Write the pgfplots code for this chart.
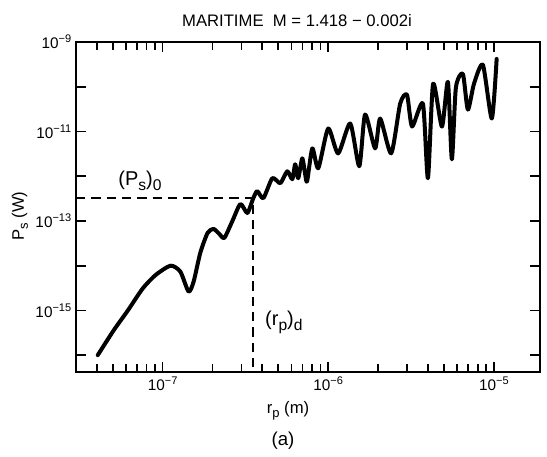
\documentclass[border=0pt]{standalone}
\usepackage{fontspec}
\setmainfont{Liberation Sans}
\usepackage{graphicx}
\usepackage{pgfplots}
\pgfplotsset{compat=1.18}
\newcommand\sub[1]{\raisebox{-0.45ex}{\scalebox{0.78}{#1}}}
\newcommand\sups[1]{\raisebox{0.75ex}{\scalebox{0.72}{#1}}}
\begin{document}
\begin{tikzpicture}
\useasboundingbox (0pt,0pt) rectangle (410.25pt,342.75pt);
\begin{axis}[
 at={(57pt,63.75pt)}, anchor=south west,
 width=348pt, height=247.5pt, scale only axis,
 xmode=log, ymode=log,
 xmin=3e-8, xmax=1.9e-5, ymin=4.2e-17, ymax=1e-9,
 xtick={1e-7,1e-6,1e-5},
 xticklabels={10\sups{−7},10\sups{−6},10\sups{−5}},
 minor xtick={4e-8,5e-8,6e-8,7e-8,8e-8,9e-8,2e-7,3e-7,4e-7,5e-7,6e-7,7e-7,8e-7,9e-7,2e-6,3e-6,4e-6,5e-6,6e-6,7e-6,8e-6,9e-6},
 ytick={1e-16,1e-15,1e-14,1e-13,1e-12,1e-11,1e-10,1e-9},
 yticklabels={,10\sups{−15},,10\sups{−13},,10\sups{−11},,10\sups{−9}},
 yminorticks=false,
 tick align=inside,
 major tick length=7.5pt, minor tick length=6pt,
 axis line style={line width=1.6pt},
 every tick/.style={black, line width=1.3pt},
 tick label style={font=\fontsize{11.5}{13}\selectfont},
 clip=false,
]
\addplot[black, line width=3pt, line join=round, line cap=round, smooth, tension=0.4] coordinates {
(4.06e-8,1.0e-16) (5.07e-8,3.60e-16) (6.15e-8,9.8e-16) (7.59e-8,3.1e-15)
(9.08e-8,6.2e-15) (1.117e-7,1.0e-14) (1.28e-7,7.36e-15) (1.435e-7,2.64e-15)
(1.54e-7,4.41e-15) (1.69e-7,1.95e-14) (1.87e-7,5.41e-14) (2.03e-7,6.64e-14)
(2.20e-7,5.14e-14) (2.36e-7,4.19e-14) (2.64e-7,1.0e-13) (2.95e-7,2.39e-13)
(3.25e-7,1.51e-13) (3.53e-7,3.24e-13) (3.73e-7,4.65e-13) (4.06e-7,3.24e-13)
(4.60e-7,9.04e-13) (5.14e-7,6.98e-13) (5.66e-7,1.29e-12) (6.07e-7,8.57e-13)
(6.32e-7,1.85e-12) (6.59e-7,9.04e-13) (6.97e-7,2.51e-12) (7.26e-7,1.107e-12)
(7.46e-7,7.74e-13) (8.02e-7,4.19e-12) (8.71e-7,1.51e-12) (1.0e-6,1.167e-11)
(1.148e-6,3.24e-12) (1.358e-6,1.51e-11) (1.54e-6,1.67e-12) (1.67e-6,2.39e-11)
(1.92e-6,4.19e-12) (2.06e-6,1.95e-11) (2.40e-6,3.24e-12) (2.72e-6,4.19e-11)
(2.99e-6,6.64e-11) (3.21e-6,1.29e-11) (3.73e-6,4.19e-11) (4.00e-6,9.04e-13)
(4.30e-6,1.167e-10) (4.86e-6,1.29e-11) (5.28e-6,1.29e-10) (5.58e-6,2.39e-12)
(5.90e-6,9.51e-11) (6.50e-6,1.95e-10) (6.97e-6,3.08e-11) (7.59e-6,1.167e-10)
(8.59e-6,3.08e-10) (9.72e-6,1.95e-11) (1.04e-5,4.19e-10)
};
\addplot[black, line width=1.5pt, dash pattern=on 7pt off 4.5pt] coordinates {
(3e-8,3.24e-13) (3.53e-7,3.24e-13) (3.53e-7,4.2e-17)
};
\node[font=\fontsize{15}{17}\selectfont] at (axis cs:7.3e-8,8.0e-13) {(P\sub{s})\sub{0}};
\node[font=\fontsize{15}{17}\selectfont] at (axis cs:5.4e-7,5.4e-16) {(r\sub{p})\sub{d}};
\end{axis}
\node[font=\fontsize{12.5}{14}\selectfont] at (222.75pt,327pt) {MARITIME\ \ M = 1.418 − 0.002i};
\node[font=\fontsize{12.5}{14}\selectfont, rotate=90] at (15pt,180.75pt) {P\sub{s} (W)};
\node[font=\fontsize{12.5}{14}\selectfont] at (216pt,35pt) {r\sub{p} (m)};
\node[font=\fontsize{14}{16}\selectfont] at (212.25pt,12pt) {(a)};
\end{tikzpicture}
\end{document}
